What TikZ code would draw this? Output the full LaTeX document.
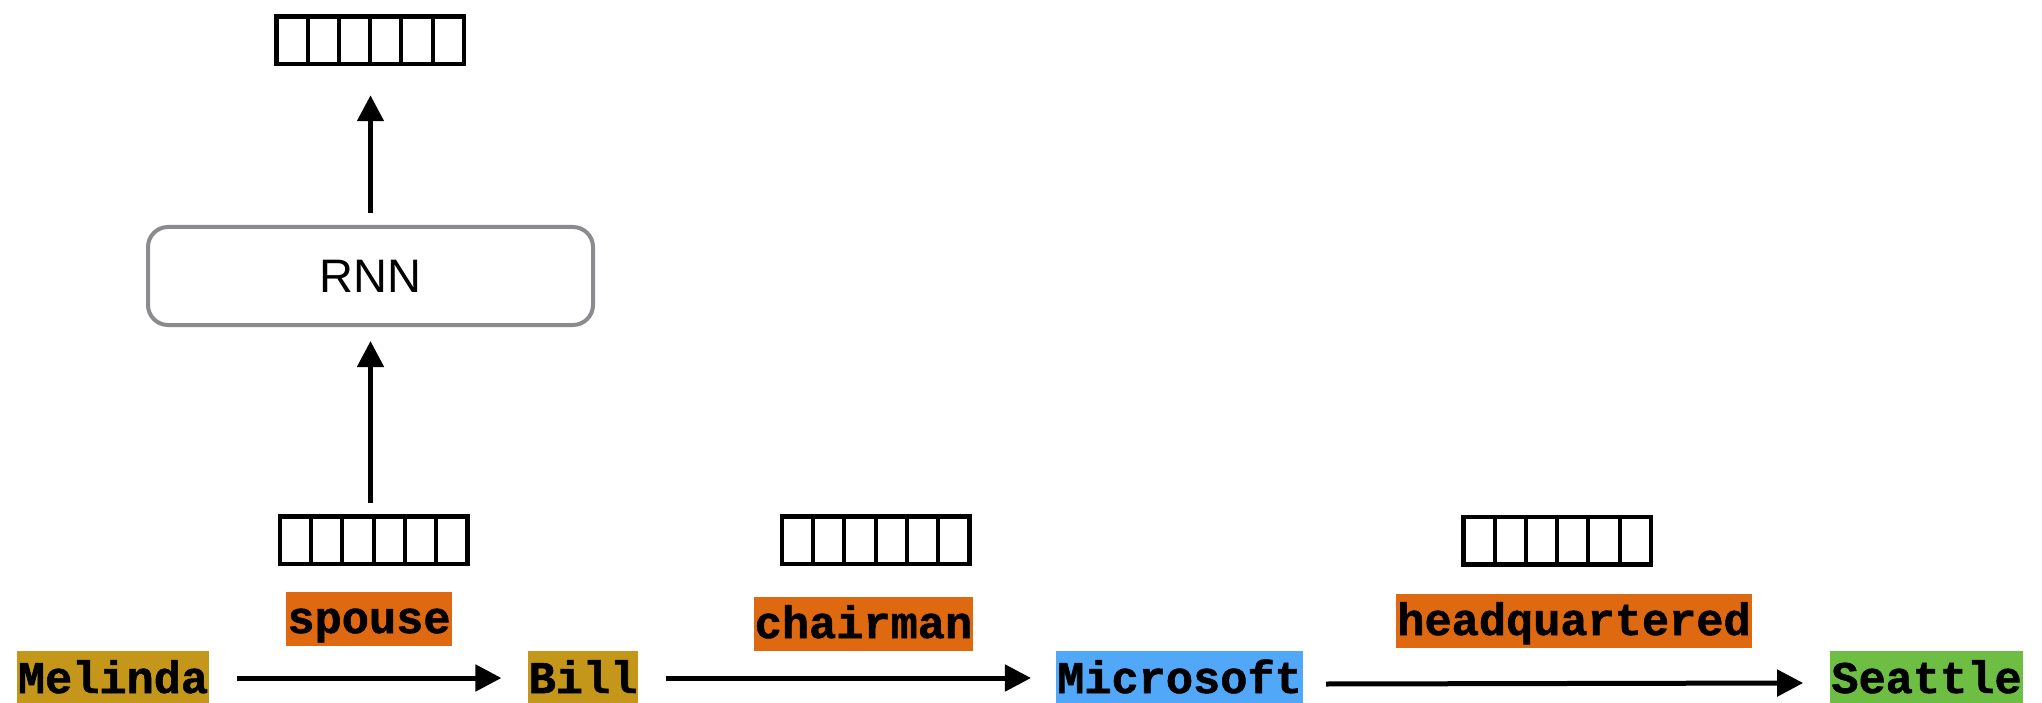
\documentclass[tikz,border=0pt]{standalone}
\usepackage{fontspec}
\setmainfont{Liberation Sans}
\newfontfamily\codefont[BoldFeatures={FakeBold=1.2}]{Liberation Mono}
\usetikzlibrary{arrows.meta,calc}
\definecolor{entgold}{HTML}{C4971B}
\definecolor{relorange}{HTML}{DE6910}
\definecolor{entblue}{HTML}{52A8F8}
\definecolor{entgreen}{HTML}{6EBE44}
\definecolor{rnngray}{HTML}{8A8B8F}
\begin{document}
\begin{tikzpicture}[x=1pt,y=-1pt,
  ent/.style={fill=#1, font=\codefont\bfseries\fontsize{45.3}{54}\selectfont,
    inner xsep=1pt, inner ysep=0pt, text height=42pt, text depth=12pt, anchor=base},
  rel/.style={fill=relorange, font=\codefont\bfseries\fontsize{45.3}{54}\selectfont,
    inner xsep=1pt, inner ysep=0pt, text height=41pt, text depth=13pt, anchor=base},
  vecbox/.style={draw=black, line width=4.5pt, minimum width=187.5pt, minimum height=47.5pt,
    inner sep=0pt, outer sep=0pt},
  cell/.style={line width=4pt},
  rnnbox/.style={draw=rnngray, line width=4pt, rounded corners=20pt, minimum width=445pt,
    minimum height=98pt, inner sep=0pt, outer sep=0pt, font=\fontsize{47}{56}\selectfont},
  arr/.style={line width=5pt, -{Triangle[length=26pt,width=26pt]}}
]
\useasboundingbox (0,0) rectangle (2042,703);

% entities
\node[ent=entgold] (mel) at (113,693) {Melinda};
\node[ent=entgold] (bill) at (583,693) {Bill};
\node[ent=entblue] (ms) at (1179.5,693) {Microsoft};
\node[ent=entgreen] (sea) at (1926.5,693) {Seattle};

% relations
\node[rel] (sp) at (369,633) {spouse};
\node[rel] (ch) at (863.5,638) {chairman};
\node[rel] (hq) at (1574,635) {headquartered};

% vectors
\node[vecbox] (v1) at (373.5,540) {};
\node[vecbox] (v2) at (875.5,540) {};
\node[vecbox] (v3) at (1557,540.5) {};
\node[vecbox] (vt) at (370,40.5) {};
\foreach \v in {v1,v2,v3,vt}
  \foreach \i in {1,...,5}
    \draw[cell] ($(\v.north west)!\i/6!(\v.north east)$) -- ($(\v.south west)!\i/6!(\v.south east)$);

% RNN
\node[rnnbox] (rnn) at (370.5,276) {RNN};

% arrows
\draw[arr] ([xshift=28pt]mel.east) -- ([xshift=-26pt]bill.west);
\draw[arr] ([xshift=27pt]bill.east) -- ([xshift=-25pt]ms.west);
\draw[arr] ([xshift=23pt,yshift=-6pt]ms.east) -- ([xshift=-27pt,yshift=-5pt]sea.west);
\draw[arr] ([yshift=13pt]v1.north -| rnn.south) -- ([yshift=-16pt]rnn.south);
\draw[arr] ([yshift=14pt]rnn.north) -- ([yshift=-31pt]vt.south -| rnn.north);
\end{tikzpicture}
\end{document}
